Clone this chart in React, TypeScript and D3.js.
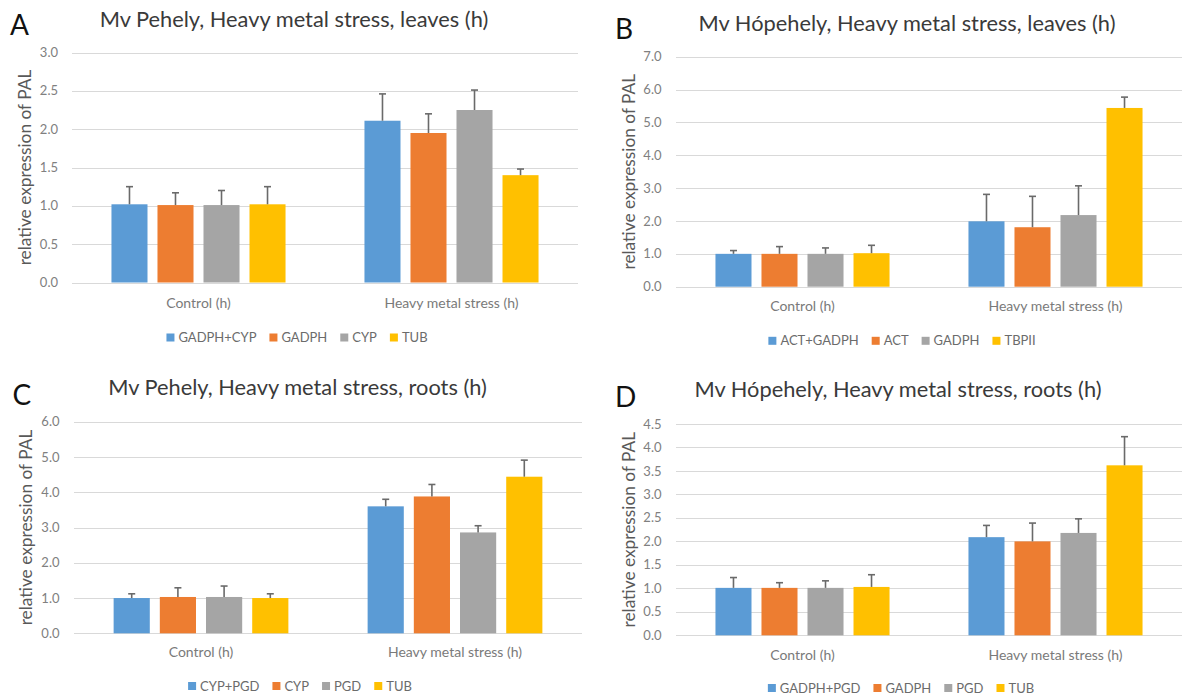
import React, { useEffect, useRef } from 'react';
import * as d3 from 'd3';

// shared
const categories = ['Control (h)', 'Heavy metal stress (h)'];
const barColors = ['#5B9BD5', '#ED7D31', '#A5A5A5', '#FFC000'];
const yTitle = 'relative expression of PAL';

// A - Mv Pehely, leaves
const seriesA = ['GADPH+CYP', 'GADPH', 'CYP', 'TUB'];
const meansA = [[1.02, 2.11], [1.01, 1.95], [1.01, 2.25], [1.02, 1.40]];
const errorsA = [[0.23, 0.35], [0.16, 0.25], [0.19, 0.26], [0.23, 0.08]];
const ticksA = [0, 0.5, 1.0, 1.5, 2.0, 2.5, 3.0];

// B - Mv Hópehely, leaves
const seriesB = ['ACT+GADPH', 'ACT', 'GADPH', 'TBPII'];
const meansB = [[1.0, 1.99], [1.0, 1.81], [1.0, 2.18], [1.02, 5.44]];
const errorsB = [[0.1, 0.82], [0.22, 0.94], [0.18, 0.89], [0.24, 0.33]];
const ticksB = [0, 1, 2, 3, 4, 5, 6, 7];

// C - Mv Pehely, roots
const seriesC = ['CYP+PGD', 'CYP', 'PGD', 'TUB'];
const meansC = [[1.0, 3.6], [1.03, 3.88], [1.03, 2.86], [1.0, 4.44]];
const errorsC = [[0.12, 0.2], [0.26, 0.34], [0.31, 0.19], [0.12, 0.47]];
const ticksC = [0, 1, 2, 3, 4, 5, 6];

// D - Mv Hópehely, roots
const seriesD = ['GADPH+PGD', 'GADPH', 'PGD', 'TUB'];
const meansD = [[1.01, 2.09], [1.01, 2.0], [1.01, 2.18], [1.03, 3.62]];
const errorsD = [[0.22, 0.25], [0.11, 0.39], [0.15, 0.3], [0.26, 0.61]];
const ticksD = [0, 0.5, 1.0, 1.5, 2.0, 2.5, 3.0, 3.5, 4.0, 4.5];

const panels = [
  { letter: 'A', title: 'Mv Pehely, Heavy metal stress, leaves (h)', series: seriesA, means: meansA, errors: errorsA, ticks: ticksA,
    x0: 72, x1: 578, yTop: 52.5, yBottom: 282.5, tickX: 58, axisX: 24.5, titleX: 294, titleY: 26.5, letterX: 10, letterY: 35, catY: 308, legendX: 297, legendY: 337.5 },
  { letter: 'B', title: 'Mv Hópehely, Heavy metal stress, leaves (h)', series: seriesB, means: meansB, errors: errorsB, ticks: ticksB,
    x0: 676, x1: 1182, yTop: 56.7, yBottom: 286.7, tickX: 661.5, axisX: 629, titleX: 907, titleY: 31, letterX: 615, letterY: 39.3, catY: 310.5, legendX: 902, legendY: 340.8 },
  { letter: 'C', title: 'Mv Pehely, Heavy metal stress, roots (h)', series: seriesC, means: meansC, errors: errorsC, ticks: ticksC,
    x0: 74, x1: 582, yTop: 421.7, yBottom: 633.3, tickX: 59.5, axisX: 26.4, titleX: 297.5, titleY: 394.8, letterX: 12.5, letterY: 405, catY: 657, legendX: 300, legendY: 686 },
  { letter: 'D', title: 'Mv Hópehely, Heavy metal stress, roots (h)', series: seriesD, means: meansD, errors: errorsD, ticks: ticksD,
    x0: 676, x1: 1182, yTop: 424, yBottom: 635.3, tickX: 661.5, axisX: 629, titleX: 898, titleY: 397, letterX: 615, letterY: 407, catY: 659.5, legendX: 901, legendY: 688 },
];

const FONT = 'Lato, "Open Sans", sans-serif';

const App = () => {
  const svgRef = useRef(null);

  useEffect(() => {
    const svg = d3.select(svgRef.current);
    svg.selectAll('*').remove();

    panels.forEach((p) => {
      const g = svg.append('g');
      const yMax = p.ticks[p.ticks.length - 1];
      const y = d3.scaleLinear().domain([0, yMax]).range([p.yBottom, p.yTop]);
      const x = d3.scaleBand().domain(categories).range([p.x0, p.x1]).padding(0);
      const groupW = x.bandwidth() * 0.688;
      const inner = d3.scaleBand().domain(p.series).range([-groupW / 2, groupW / 2]).paddingInner(0.217).paddingOuter(0);

      // gridlines
      g.append('g')
        .selectAll('line')
        .data(p.ticks)
        .enter()
        .append('line')
        .attr('x1', p.x0)
        .attr('x2', p.x1)
        .attr('y1', (d) => Math.round(y(d)) + 0.5)
        .attr('y2', (d) => Math.round(y(d)) + 0.5)
        .attr('stroke', '#d9d9d9')
        .attr('stroke-width', 1.2);

      // tick labels
      g.append('g')
        .selectAll('text')
        .data(p.ticks)
        .enter()
        .append('text')
        .attr('x', p.tickX)
        .attr('y', (d) => y(d))
        .attr('dy', '0.35em')
        .attr('text-anchor', 'end')
        .style('font-family', FONT)
        .style('font-size', '13px')
        .style('fill', '#808080')
        .text((d) => d3.format('.1f')(d));

      // bars
      p.series.forEach((s, si) => {
        const bars = g.append('g');
        categories.forEach((c, ci) => {
          const v = p.means[si][ci];
          const bx = x(c) + x.bandwidth() / 2 + inner(s);
          bars.append('rect')
            .attr('x', bx)
            .attr('y', y(v))
            .attr('width', inner.bandwidth())
            .attr('height', y(0) - y(v))
            .attr('fill', barColors[si]);
        });
      });

      // error bars (plus only)
      p.series.forEach((s, si) => {
        const eg = g.append('g').attr('stroke', '#6a6a6a').attr('stroke-width', 1.6);
        categories.forEach((c, ci) => {
          const v = p.means[si][ci];
          const top = v + p.errors[si][ci];
          const cx = x(c) + x.bandwidth() / 2 + inner(s) + inner.bandwidth() / 2;
          eg.append('line').attr('x1', cx).attr('x2', cx).attr('y1', y(v)).attr('y2', y(top));
          eg.append('line').attr('x1', cx - 3.5).attr('x2', cx + 3.5).attr('y1', y(top)).attr('y2', y(top));
        });
      });

      // category labels
      g.append('g')
        .selectAll('text')
        .data(categories)
        .enter()
        .append('text')
        .attr('x', (d) => x(d) + x.bandwidth() / 2)
        .attr('y', p.catY)
        .attr('text-anchor', 'middle')
        .style('font-family', FONT)
        .style('font-size', '14px')
        .style('fill', '#7a7a7a')
        .text((d) => d);

      // y axis title
      const cy = (p.yTop + p.yBottom) / 2;
      g.append('text')
        .attr('transform', `translate(${p.axisX},${cy}) rotate(-90)`)
        .attr('text-anchor', 'middle')
        .attr('dy', '0.35em')
        .style('font-family', FONT)
        .style('font-size', '17.3px')
        .style('fill', '#595959')
        .text(yTitle);

      // title and panel letter
      g.append('text')
        .attr('x', p.titleX)
        .attr('y', p.titleY)
        .attr('text-anchor', 'middle')
        .style('font-family', FONT)
        .style('font-size', '21.8px')
        .style('fill', '#3a3a3a')
        .text(p.title);

      g.append('text')
        .attr('x', p.letterX)
        .attr('y', p.letterY)
        .style('font-family', FONT)
        .style('font-size', '28px')
        .style('fill', '#111')
        .text(p.letter);

      // legend, centred on legendX
      const lg = g.append('g');
      const items = p.series.map((s, si) => {
        const it = lg.append('g');
        it.append('rect').attr('width', 8).attr('height', 8).attr('y', -4).attr('fill', barColors[si]);
        const t = it.append('text')
          .attr('x', 12)
          .attr('dy', '0.35em')
          .style('font-family', FONT)
          .style('font-size', '13px')
          .style('fill', '#6b6b6b')
          .text(s);
        const node = t.node();
        const w = 12 + (node ? node.getComputedTextLength() : s.length * 7);
        return { it, w };
      });
      const gap = 13;
      const total = d3.sum(items, (d) => d.w) + gap * (items.length - 1);
      let cur = p.legendX - total / 2;
      items.forEach((d) => {
        d.it.attr('transform', `translate(${cur},${p.legendY})`);
        cur += d.w + gap;
      });
    });
  }, []);

  return (
    <svg
      ref={svgRef}
      width={1182}
      height={700}
      style={{ position: 'absolute', left: 0, top: 0, background: '#fff' }}
    ></svg>
  );
};

export default App;
